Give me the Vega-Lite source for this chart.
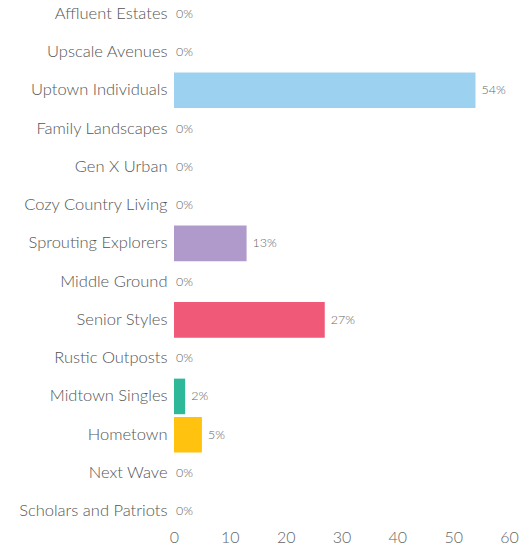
{
  "$schema": "https://vega.github.io/schema/vega-lite/v6.json",
  "width": 335,
  "height": 533,
  "autosize": "none",
  "padding": {"left": 174, "top": -4, "right": 10, "bottom": 24},
  "background": "white",
  "config": {"view": {"stroke": null}, "font": "Lato"},
  "data": {"values": [
    {"segment": "Affluent Estates", "pct": 0, "label": "0%", "color": "#9DD1F0"},
    {"segment": "Upscale Avenues", "pct": 0, "label": "0%", "color": "#9DD1F0"},
    {"segment": "Uptown Individuals", "pct": 54, "label": "54%", "color": "#9DD1F0"},
    {"segment": "Family Landscapes", "pct": 0, "label": "0%", "color": "#9DD1F0"},
    {"segment": "Gen X Urban", "pct": 0, "label": "0%", "color": "#9DD1F0"},
    {"segment": "Cozy Country Living", "pct": 0, "label": "0%", "color": "#9DD1F0"},
    {"segment": "Sprouting Explorers", "pct": 13, "label": "13%", "color": "#B09ACB"},
    {"segment": "Middle Ground", "pct": 0, "label": "0%", "color": "#B09ACB"},
    {"segment": "Senior Styles", "pct": 27, "label": "27%", "color": "#F05A78"},
    {"segment": "Rustic Outposts", "pct": 0, "label": "0%", "color": "#F05A78"},
    {"segment": "Midtown Singles", "pct": 2, "label": "2%", "color": "#2EB89A"},
    {"segment": "Hometown", "pct": 5, "label": "5%", "color": "#FFC20E"},
    {"segment": "Next Wave", "pct": 0, "label": "0%", "color": "#FFC20E"},
    {"segment": "Scholars and Patriots", "pct": 0, "label": "0%", "color": "#FFC20E"}
  ]},
  "encoding": {
    "y": {"field": "segment", "type": "nominal", "sort": null,
      "scale": {"paddingInner": 0.07, "paddingOuter": 0},
      "axis": {"title": null, "domain": false, "ticks": false, "labelPadding": 7,
        "labelFontSize": 16.5, "labelColor": "#555555", "labelFont": "Lato", "labelFontWeight": 300}},
    "x": {"field": "pct", "type": "quantitative",
      "scale": {"domain": [0, 60], "nice": false},
      "axis": {"title": null, "domain": false, "ticks": false, "grid": false,
        "values": [0, 10, 20, 30, 40, 50, 60], "labelPadding": 0,
        "labelFontSize": 16, "labelColor": "#666666", "labelFont": "Lato", "labelFontWeight": 300,
        "labelFlush": false}}
  },
  "layer": [
    {"mark": {"type": "bar"},
      "encoding": {"color": {"field": "color", "type": "nominal", "scale": null}}},
    {"transform": [{"filter": "datum.pct > 0"}],
      "mark": {"type": "text", "align": "left", "dx": 6, "fontSize": 12.5, "color": "#666666", "font": "Lato", "fontWeight": 300},
      "encoding": {"text": {"field": "label", "type": "nominal"}}},
    {"transform": [{"filter": "datum.pct == 0"}],
      "mark": {"type": "text", "align": "left", "dx": 2, "fontSize": 12.5, "color": "#666666", "font": "Lato", "fontWeight": 300},
      "encoding": {"text": {"field": "label", "type": "nominal"}}}
  ]
}
